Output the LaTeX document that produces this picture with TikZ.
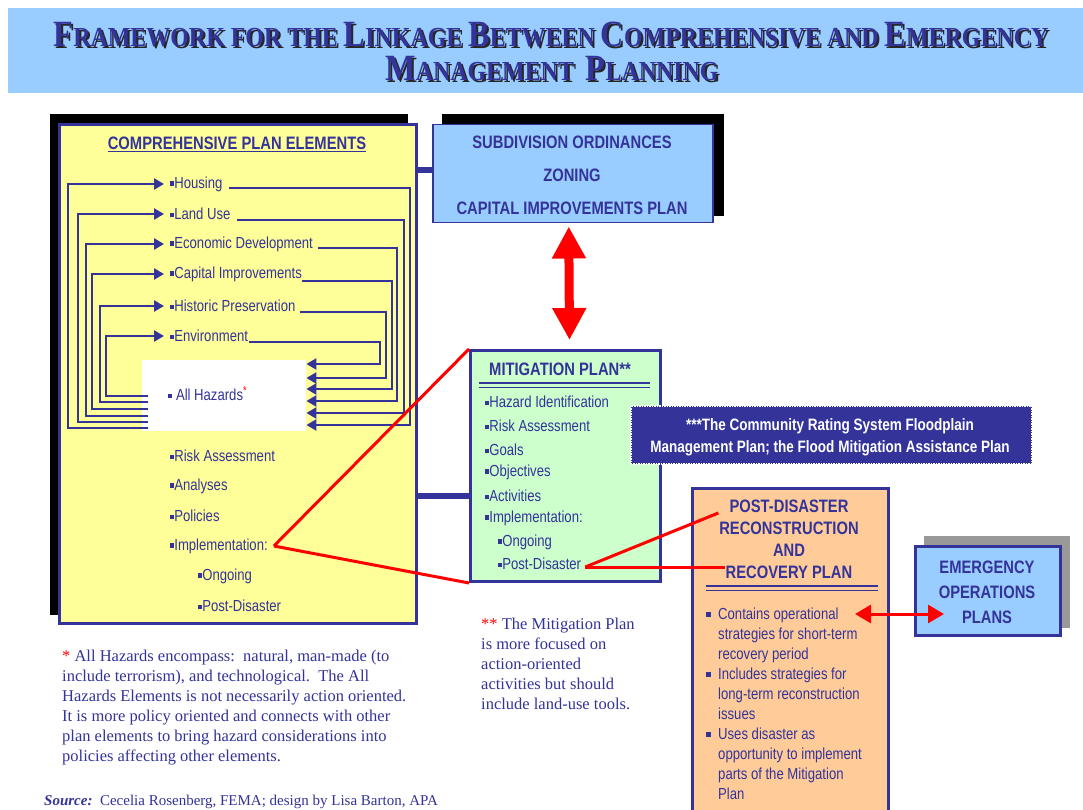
\documentclass[tikz,border=0pt]{standalone}
\usepackage{fontspec}
\setmainfont{Liberation Serif}
\newfontfamily\narrow[FakeStretch=0.82]{Liberation Sans}
\newfontfamily\titlefont[FakeStretch=0.87]{Liberation Serif}
\usetikzlibrary{arrows.meta}

\definecolor{dkblue}{HTML}{333399}
\definecolor{ltyellow}{HTML}{FFFF99}
\definecolor{ltblue}{HTML}{99CCFF}
\definecolor{ltgreen}{HTML}{CCFFCC}
\definecolor{ltorange}{HTML}{FFCC99}
\definecolor{shgray}{HTML}{999999}

\newcommand{\sq}{\rule[0.3ex]{0.26em}{0.26em}}
\newcommand{\tbig}[1]{{\fontsize{37}{37}\selectfont #1}}
\newcommand{\titleA}{\tbig{F}RAMEWORK FOR THE \tbig{L}INKAGE \tbig{B}ETWEEN \tbig{C}OMPREHENSIVE AND \tbig{E}MERGENCY}
\newcommand{\titleB}{\tbig{M}ANAGEMENT\ \ \tbig{P}LANNING}

\tikzstyle{item}=[anchor=west,inner sep=0pt,text=dkblue,font=\narrow\fontsize{16}{20}\selectfont]
\tikzstyle{head}=[inner sep=0pt,text=dkblue,font=\narrow\bfseries\fontsize{18}{22}\selectfont]
\tikzstyle{titletext}=[inner sep=0pt,text=dkblue,font=\titlefont\bfseries\fontsize{27.5}{27.5}\selectfont]
\tikzstyle{note}=[anchor=north west,inner sep=0pt,align=left,text=dkblue,font=\fontsize{16.5}{20}\selectfont]
\tikzstyle{bigbox}=[draw=dkblue,line width=3pt,anchor=north west,inner sep=0pt]
\tikzstyle{loopl}=[draw=dkblue,line width=2.3pt,-{Triangle[length=10pt,width=11pt]},shorten >=6pt]
\tikzstyle{loopr}=[draw=dkblue,line width=2.3pt,-{Triangle[length=10pt,width=11pt]}]
\tikzstyle{bar}=[draw=dkblue,line width=6pt]
\tikzstyle{redline}=[draw=red,line width=3pt]

\begin{document}
\begin{tikzpicture}[x=1pt,y=-1pt]
\useasboundingbox (0,0) rectangle (1083,810);
\fill[white] (0,0) rectangle (1083,810);

% title banner
\fill[ltblue] (8,8) rectangle (1083,93);
\node[titletext,text=black!85] at (553,36) {\titleA};
\node[titletext] (title1) at (551,34) {\titleA};
\node[titletext,text=black!85] at (554,71) {\titleB};
\node[titletext] (title2) at (552,69) {\titleB};

% comprehensive plan
\fill[black] (50,114) rectangle (408,615);
\node[bigbox,fill=ltyellow,minimum width=357pt,minimum height=499pt] (comp) at (58,123) {};
\node[head] (comphead) at (237,144) {\underline{COMPREHENSIVE PLAN ELEMENTS}};
\node[item] (hous) at (170,184) {\sq Housing};
\node[item] (land) at (170,214) {\sq Land Use};
\node[item] (econ) at (170,244) {\sq Economic Development};
\node[item] (capi) at (170,274) {\sq Capital Improvements};
\node[item] (hist) at (170,306) {\sq Historic Preservation};
\node[item] (envi) at (170,336) {\sq Environment};
\node[fill=white,anchor=north west,minimum width=164pt,minimum height=71pt,inner sep=0pt] (hazbox) at (142,360) {};
\node[item] (haz) at (168,394) {\sq\ All Hazards\textsuperscript{\color{red}*}};
\node[item] (risk) at (170,456) {\sq Risk Assessment};
\node[item] (anal) at (170,486) {\sq Analyses};
\node[item] (poli) at (170,516) {\sq Policies};
\node[item] (impl) at (170,546) {\sq Implementation:};
\node[item] (ongo) at (198,576) {\sq Ongoing};
\node[item] (post) at (198,606) {\sq Post-Disaster};

% loops into the elements
\draw[loopl] (148,428) -| (68,428) |- (hous.west);
\draw[loopl] (148,422) -| (78,422) |- (land.west);
\draw[loopl] (148,416) -| (86,416) |- (econ.west);
\draw[loopl] (148,409) -| (92,409) |- (capi.west);
\draw[loopl] (148,402) -| (100,402) |- (hist.west);
\draw[loopl] (148,396) -| (106,396) |- (envi.west);
% loops back to all hazards
\draw[loopr] ([xshift=6pt]hous.base east) -| (410,425) -- (hazbox.east |- 0,425);
\draw[loopr] ([xshift=6pt]land.base east) -| (404,413) -- (hazbox.east |- 0,413);
\draw[loopr] ([xshift=5pt]econ.base east) -| (397,401) -- (hazbox.east |- 0,401);
\draw[loopr] ([yshift=-3pt]capi.base east) -| (392,389) -- (hazbox.east |- 0,389);
\draw[loopr] ([xshift=4pt]hist.base east) -| (386,378) -- (hazbox.east |- 0,378);
\draw[loopr] ([xshift=1pt]envi.base east) -| (380,364) -- (hazbox.east |- 0,364);

% subdivision, zoning, CIP
\fill[black] (442,114) rectangle (724,216);
\node[draw=dkblue,line width=1.5pt,fill=ltblue,anchor=north west,minimum width=280pt,minimum height=98pt,inner sep=0pt] (subd) at (432,124) {};
\node[head,align=center,font=\narrow\bfseries\fontsize{18}{33}\selectfont] (subdtext) at (572,175) {SUBDIVISION ORDINANCES\\ZONING\\CAPITAL IMPROVEMENTS PLAN};
\draw[bar] (comp.east |- 0,170) -- (subd.west |- 0,170);

% mitigation plan
\node[bigbox,fill=ltgreen,minimum width=190pt,minimum height=231pt] (mitig) at (469,349) {};
\node[head] (mitighead) at (560,369) {MITIGATION PLAN**};
\draw[dkblue,line width=2pt] (479,383) -- (650,383);
\draw[dkblue,line width=1pt] (479,387) -- (650,387);
\node[item] (mhaz) at (485,402) {\sq Hazard Identification};
\node[item] (mrisk) at (485,426) {\sq Risk Assessment};
\node[item] (mgoal) at (485,450) {\sq Goals};
\node[item] (mobj) at (485,472) {\sq Objectives};
\node[item] (mact) at (485,496) {\sq Activities};
\node[item] (mimpl) at (485,518) {\sq Implementation:};
\node[item] (mongo) at (498,542) {\sq Ongoing};
\node[item] (mpost) at (498,564) {\sq Post-Disaster};
\draw[bar] (comp.east |- 0,496) -- (mitig.west |- 0,496);

\draw[red,line width=9pt,{Triangle[length=32pt,width=32pt]}-{Triangle[length=32pt,width=32pt]}] ([xshift=-4pt]subd.south) ++(0,3) -- ([xshift=4pt]mitig.north |- 0,340);

% flood plans note
\node[fill=dkblue,draw=white,line width=1.5pt,densely dotted,anchor=north west,minimum width=401pt,minimum height=58pt,inner sep=0pt] (flood) at (630,405) {};
\node[head,text=white,align=center,font=\narrow\bfseries\fontsize{16.5}{22}\selectfont] (floodtext) at (830,437) {***The Community Rating System Floodplain\\Management Plan; the Flood Mitigation Assistance Plan};

% post-disaster plan
\node[bigbox,fill=ltorange,minimum width=196pt,minimum height=340pt] (pdr) at (691,487) {};
\node[head] (pdt1) at (789,506) {POST-DISASTER};
\node[head] (pdt2) at (789,528) {RECONSTRUCTION};
\node[head] (pdt3) at (789,550) {AND};
\node[head] (pdt4) at (789,572) {RECOVERY PLAN};
\draw[dkblue,line width=2pt] (706,586) -- (878,586);
\draw[dkblue,line width=1pt] (706,590) -- (878,590);
\node[item,anchor=north west,align=left] (pdA) at (718,608) {Contains operational\\strategies for short-term\\recovery period};
\node[item,anchor=north west,align=left] (pdB) at (718,668) {Includes strategies for\\long-term reconstruction\\issues};
\node[item,anchor=north west,align=left] (pdC) at (718,728) {Uses disaster as\\opportunity to implement\\parts of the Mitigation\\Plan};
\fill[dkblue] (706,612) rectangle ++(5,5);
\fill[dkblue] (706,672) rectangle ++(5,5);
\fill[dkblue] (706,732) rectangle ++(5,5);

% emergency operations plans
\fill[shgray] (924,536) rectangle (1070,628);
\node[bigbox,fill=ltblue,minimum width=145pt,minimum height=89pt] (emerg) at (914,545) {};
\node[head,align=center,font=\narrow\bfseries\fontsize{18}{25}\selectfont] (emergtext) at (987,592) {EMERGENCY\\OPERATIONS\\PLANS};
\coordinate (contains) at (855,614);
\coordinate (eop) at (944,614);
\draw[red,line width=3pt,{Triangle[length=16pt,width=18pt]}-{Triangle[length=16pt,width=18pt]}] (contains) -- (eop);

% red linking lines
\coordinate (recov) at (pdt4.west |- mpost.east);
\draw[redline] ([xshift=6pt]impl.east) -- (mitig.north west);
\draw[redline] ([xshift=6pt]impl.east) -- (mitig.south west);
\draw[redline] ([xshift=4pt,yshift=-3pt]mpost.east) -- ([xshift=-11pt,yshift=-7pt]pdt1.west);
\draw[redline] ([xshift=4pt,yshift=-3pt]mpost.east) -- ([xshift=-1pt,yshift=-3pt]recov);

% footnotes
\node[note] (fn1) at (62,650) {{\color{red}*} All Hazards encompass:\ \ natural, man-made (to\\include terrorism), and technological.\ \ The All\\Hazards Elements is not necessarily action oriented.\\It is more policy oriented and connects with other\\plan elements to bring hazard considerations into\\policies affecting other elements.};
\node[note] (fn2) at (481,618) {{\color{red}**} The Mitigation Plan\\is more focused on\\action-oriented\\activities but should\\include land-use tools.};
\node[note,anchor=west,font=\fontsize{15}{18}\selectfont] (source) at (44,802) {{\bfseries\itshape Source:}\ \ Cecelia Rosenberg, FEMA; design by Lisa Barton, APA};
\end{tikzpicture}
\end{document}
